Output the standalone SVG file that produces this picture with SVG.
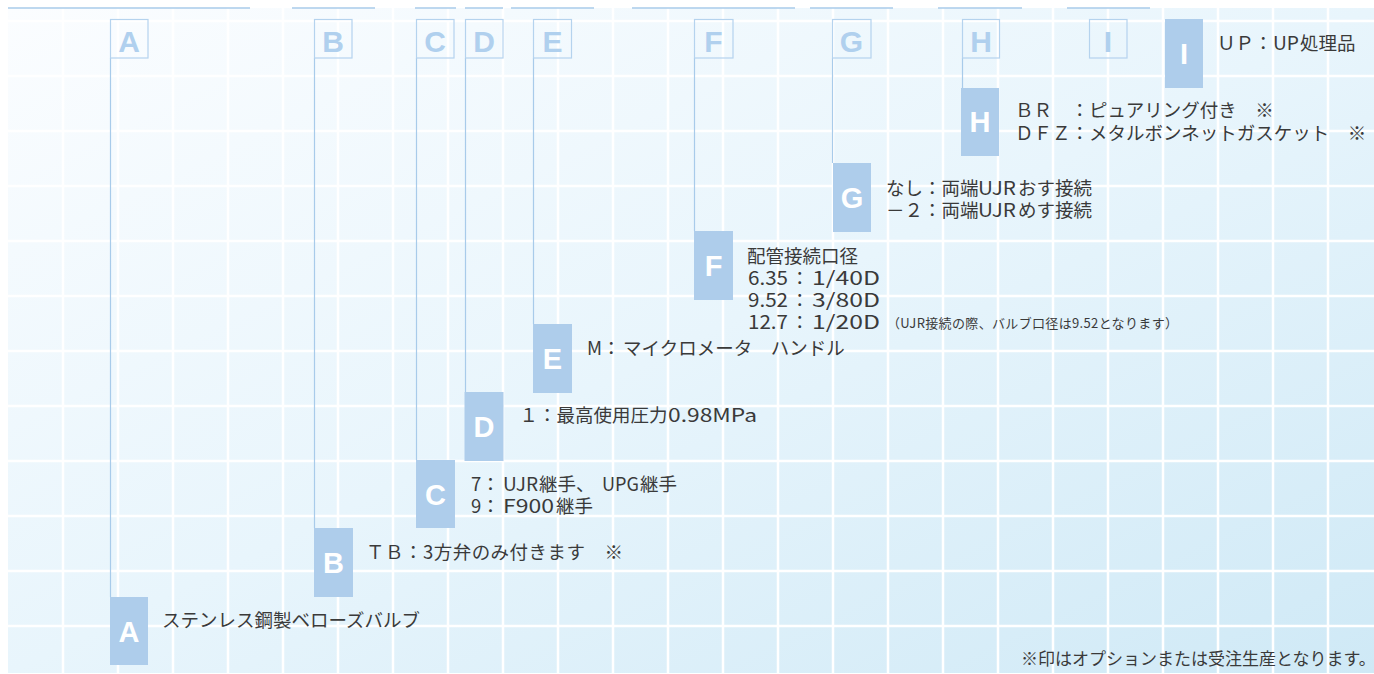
<svg xmlns="http://www.w3.org/2000/svg" width="1374" height="674" viewBox="0 0 1374 674">
<defs>
<linearGradient id="bg" x1="0" y1="0" x2="1" y2="1">
<stop offset="0" stop-color="#fbfdff"/>
<stop offset="0.5" stop-color="#e8f5fc"/>
<stop offset="1" stop-color="#cfe9f6"/>
</linearGradient>
<style>
.grid{stroke:#ffffff;stroke-width:2.5}
.top{stroke:#a9cbea;stroke-width:1.5}
.hdr{fill:none;stroke:#b5d3ee;stroke-width:1.2}
.hl{font-family:"Liberation Sans",Arial,sans-serif;font-weight:bold;font-size:30px;fill:#b0d0ee;text-anchor:middle}
.box{fill:#aecdeb}
.bl{font-family:"Liberation Sans",Arial,sans-serif;font-weight:bold;font-size:29px;fill:#ffffff;text-anchor:middle}
.conn{stroke:#a8cbea;stroke-width:1.2;fill:none}
.t{font-family:"Noto Sans CJK JP","Noto Sans CJK SC",sans-serif;font-size:18.5px;fill:#3a3a3a}
.s{font-family:"Noto Sans CJK JP","Noto Sans CJK SC",sans-serif;font-size:13px;fill:#3a3a3a}
</style>
</defs>
<rect x="0" y="0" width="1374" height="674" fill="#ffffff"/>
<rect x="8" y="8" width="1366" height="665" fill="url(#bg)"/>
<g id="grid" class="grid">
<line x1="63" y1="8" x2="63" y2="673"/><line x1="118" y1="8" x2="118" y2="673"/><line x1="173" y1="8" x2="173" y2="673"/><line x1="228" y1="8" x2="228" y2="673"/><line x1="283" y1="8" x2="283" y2="673"/><line x1="338" y1="8" x2="338" y2="673"/><line x1="393" y1="8" x2="393" y2="673"/><line x1="448" y1="8" x2="448" y2="673"/><line x1="503" y1="8" x2="503" y2="673"/><line x1="558" y1="8" x2="558" y2="673"/><line x1="613" y1="8" x2="613" y2="673"/><line x1="668" y1="8" x2="668" y2="673"/><line x1="723" y1="8" x2="723" y2="673"/><line x1="778" y1="8" x2="778" y2="673"/><line x1="833" y1="8" x2="833" y2="673"/><line x1="888" y1="8" x2="888" y2="673"/><line x1="943" y1="8" x2="943" y2="673"/><line x1="998" y1="8" x2="998" y2="673"/><line x1="1053" y1="8" x2="1053" y2="673"/><line x1="1108" y1="8" x2="1108" y2="673"/><line x1="1163" y1="8" x2="1163" y2="673"/><line x1="1218" y1="8" x2="1218" y2="673"/><line x1="1273" y1="8" x2="1273" y2="673"/><line x1="1328" y1="8" x2="1328" y2="673"/>
<line x1="8" y1="21" x2="1374" y2="21"/><line x1="8" y1="76" x2="1374" y2="76"/><line x1="8" y1="131" x2="1374" y2="131"/><line x1="8" y1="186" x2="1374" y2="186"/><line x1="8" y1="241" x2="1374" y2="241"/><line x1="8" y1="296" x2="1374" y2="296"/><line x1="8" y1="351" x2="1374" y2="351"/><line x1="8" y1="406" x2="1374" y2="406"/><line x1="8" y1="461" x2="1374" y2="461"/><line x1="8" y1="516" x2="1374" y2="516"/><line x1="8" y1="571" x2="1374" y2="571"/><line x1="8" y1="626" x2="1374" y2="626"/>
</g>
<g id="toplines" class="top">
<line x1="8" y1="8" x2="250" y2="8"/><line x1="292" y1="8" x2="375" y2="8"/><line x1="415" y1="8" x2="456" y2="8"/><line x1="465" y1="8" x2="503" y2="8"/><line x1="511" y1="8" x2="594" y2="8"/><line x1="632" y1="8" x2="795" y2="8"/><line x1="810" y1="8" x2="893" y2="8"/><line x1="938" y1="8" x2="1022" y2="8"/><line x1="1067" y1="8" x2="1150" y2="8"/>
</g>
<g id="connectors" class="conn">
<line x1="110.5" y1="58" x2="110.5" y2="597"/>
<line x1="314.5" y1="58" x2="314.5" y2="528"/>
<line x1="416.5" y1="58" x2="416.5" y2="460"/>
<line x1="465.5" y1="58" x2="465.5" y2="392"/>
<line x1="533.5" y1="58" x2="533.5" y2="324"/>
<line x1="694.5" y1="58" x2="694.5" y2="231"/>
<line x1="832.5" y1="58" x2="832.5" y2="163"/>
<line x1="962.5" y1="58" x2="962.5" y2="88"/>
</g>
<g id="node-A">
<rect class="hdr" x="110.5" y="19.5" width="37.5" height="38.5"/><text class="hl" x="129" y="52">A</text>
<rect class="box" x="110" y="597" width="38" height="68"/><text class="bl" x="129" y="642">A</text>
<text class="t" x="162" y="627">ステンレス鋼製ベローズバルブ</text>
</g>
<g id="node-B">
<rect class="hdr" x="314.5" y="19.5" width="37.5" height="38.5"/><text class="hl" x="333" y="52">B</text>
<rect class="box" x="314" y="528" width="39" height="69"/><text class="bl" x="333.5" y="573">B</text>
<text class="t" x="366" y="559" textLength="257" lengthAdjust="spacing">ＴＢ：3方弁のみ付きます　※</text>
</g>
<g id="node-C">
<rect class="hdr" x="416.5" y="19.5" width="37.5" height="38.5"/><text class="hl" x="435" y="52">C</text>
<rect class="box" x="416" y="460" width="39" height="68"/><text class="bl" x="435.5" y="505">C</text>
<text class="t"><tspan x="471" y="491">7：</tspan><tspan x="503" textLength="35" lengthAdjust="spacingAndGlyphs">UJR</tspan><tspan x="539">継手、</tspan><tspan x="602" textLength="37" lengthAdjust="spacingAndGlyphs">UPG</tspan><tspan x="640">継手</tspan><tspan x="471" y="513">9：</tspan><tspan x="503" textLength="51" lengthAdjust="spacingAndGlyphs">F900</tspan><tspan x="556">継手</tspan></text>
</g>
<g id="node-D">
<rect class="hdr" x="465.5" y="19.5" width="37.5" height="38.5"/><text class="hl" x="484" y="52">D</text>
<rect class="box" x="464.5" y="392" width="39" height="69"/><text class="bl" x="484" y="437">D</text>
<text class="t"><tspan x="519.5" y="422">１：最高使用圧力</tspan><tspan x="668" textLength="89" lengthAdjust="spacingAndGlyphs">0.98MPa</tspan></text>
</g>
<g id="node-E">
<rect class="hdr" x="533.5" y="19.5" width="38" height="38.5"/><text class="hl" x="552.5" y="52">E</text>
<rect class="box" x="533" y="324" width="39" height="69"/><text class="bl" x="552.5" y="369">E</text>
<text class="t"><tspan x="587" y="355">M：</tspan><tspan x="623">マイクロメータ　ハンドル</tspan></text>
</g>
<g id="node-F">
<rect class="hdr" x="694.5" y="19.5" width="38.5" height="38.5"/><text class="hl" x="713.5" y="52">F</text>
<rect class="box" x="694" y="231" width="39" height="69"/><text class="bl" x="713.5" y="276">F</text>
<text class="t"><tspan x="747" y="263">配管接続口径</tspan><tspan x="748" y="285" textLength="40" lengthAdjust="spacingAndGlyphs">6.35</tspan><tspan x="790.5">：</tspan><tspan x="812" textLength="68" lengthAdjust="spacingAndGlyphs">1/40D</tspan><tspan x="748" y="307" textLength="40" lengthAdjust="spacingAndGlyphs">9.52</tspan><tspan x="790.5">：</tspan><tspan x="812" textLength="68" lengthAdjust="spacingAndGlyphs">3/80D</tspan><tspan x="748" y="329" textLength="40" lengthAdjust="spacingAndGlyphs">12.7</tspan><tspan x="790.5">：</tspan><tspan x="812" textLength="68" lengthAdjust="spacingAndGlyphs">1/20D</tspan></text>
<text class="s" x="887" y="328" textLength="291" lengthAdjust="spacing">（UJR接続の際、バルブ口径は9.52となります）</text>
</g>
<g id="node-G">
<rect class="hdr" x="832.5" y="19.5" width="38.5" height="38.5"/><text class="hl" x="851.5" y="52">G</text>
<rect class="box" x="833" y="163" width="38" height="69"/><text class="bl" x="852" y="208">G</text>
<text class="t"><tspan x="886" y="195">なし：両端</tspan><tspan x="978" textLength="38" lengthAdjust="spacingAndGlyphs">UJR</tspan><tspan x="1018">おす接続</tspan><tspan x="886" y="217">－２：両端</tspan><tspan x="978" textLength="38" lengthAdjust="spacingAndGlyphs">UJR</tspan><tspan x="1018">めす接続</tspan></text>
</g>
<g id="node-H">
<rect class="hdr" x="962.5" y="19.5" width="37" height="38.5"/><text class="hl" x="981" y="52">H</text>
<rect class="box" x="961" y="88" width="38" height="68"/><text class="bl" x="980" y="132">H</text>
<text class="t"><tspan x="1015" y="117">ＢＲ　：ピュアリング付き　※</tspan><tspan x="1015" y="140">ＤＦＺ：メタルボンネットガスケット　※</tspan></text>
</g>
<g id="node-I">
<rect class="hdr" x="1089.5" y="19.5" width="37.5" height="38.5"/><text class="hl" x="1108" y="52">I</text>
<rect class="box" x="1165" y="19" width="38" height="69"/><text class="bl" x="1184" y="64">I</text>
<text class="t"><tspan x="1217" y="50">ＵＰ：</tspan><tspan x="1273" textLength="26" lengthAdjust="spacingAndGlyphs">UP</tspan><tspan x="1300">処理品</tspan></text>
</g>
<text class="t" x="1021" y="665" style="font-size:17px">※印はオプションまたは受注生産となります。</text>
</svg>
